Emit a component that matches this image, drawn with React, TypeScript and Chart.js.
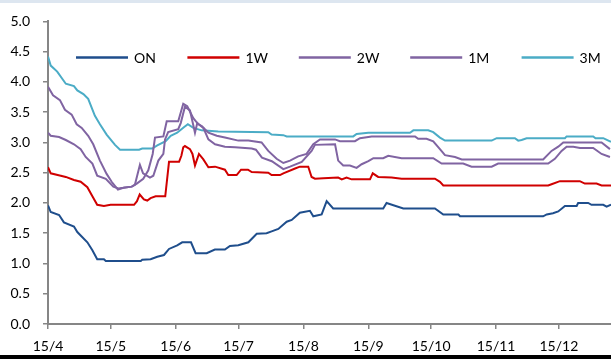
import React, { useEffect, useRef } from "react";
import { Chart, registerables } from "chart.js";

Chart.register(...registerables);

// x = calendar days since 2015-04-01
const MONTH_TICKS = [0, 30, 61, 91, 122, 153, 183, 214, 244];
const MONTH_LABELS = ["15/4", "15/5", "15/6", "15/7", "15/8", "15/9", "15/10", "15/11", "15/12"];
const X_MAX = 268.9;
const Y_TICKS_STEP = 0.5;

const SERIES_NAMES = ["ON", "1W", "2W", "1M", "3M"];
const SERIES_COLORS = ["#1F4E8C", "#D00000", "#8064A2", "#8064A2", "#4BACC6"];

const ON_DAYS = [0, 1.3, 5.3, 7.6, 12.4, 14, 18.8, 21.2, 23.5, 26.7, 27.6, 44.3, 45, 49, 52.2, 55.4, 57.8, 61.7, 64.1, 68.3, 70.5, 75.8, 79.7, 84.5, 86.9, 90.9, 95.7, 99.7, 104.4, 106.8, 110, 114, 116.4, 120.3, 125.1, 126.7, 130.7, 133.1, 136.2, 160.1, 161.7, 169.7, 184.8, 188.8, 196, 196.8, 236.5, 238.2, 241.2, 243.7, 246.9, 252.5, 253.2, 258, 259.6, 265.2, 266.8, 268.9];
const ON_RATES = [1.96, 1.85, 1.80, 1.68, 1.61, 1.52, 1.35, 1.22, 1.07, 1.07, 1.04, 1.04, 1.06, 1.07, 1.11, 1.14, 1.24, 1.30, 1.35, 1.35, 1.17, 1.17, 1.23, 1.23, 1.29, 1.30, 1.35, 1.49, 1.50, 1.53, 1.57, 1.69, 1.72, 1.84, 1.87, 1.78, 1.81, 2.03, 1.91, 1.91, 2.0, 1.91, 1.91, 1.81, 1.81, 1.78, 1.78, 1.81, 1.83, 1.86, 1.95, 1.95, 2.0, 2.0, 1.97, 1.97, 1.94, 1.97];

const W1_DAYS = [0, 1.3, 6.1, 8.5, 12.4, 15.6, 18.8, 21.2, 23.5, 26.7, 29.9, 41.1, 42.5, 43.8, 45.8, 47.4, 49, 51.4, 56, 57.8, 62.6, 63.7, 64.6, 65.4, 67.8, 69, 70.2, 72.1, 74.2, 76.6, 79.8, 84.5, 86.1, 90.1, 92.2, 95.5, 97.3, 105.2, 106.8, 110.8, 112.4, 118, 120.3, 124.3, 125.9, 127.5, 131.5, 138.6, 140.3, 142.6, 145, 153.8, 155.1, 157.7, 164.1, 168.9, 184.8, 187.2, 188.8, 238.9, 240.5, 244.5, 254, 256.4, 262, 264.4, 268.9];
const W1_RATES = [2.59, 2.49, 2.45, 2.43, 2.38, 2.35, 2.26, 2.11, 1.97, 1.95, 1.97, 1.97, 2.03, 2.14, 2.06, 2.04, 2.08, 2.11, 2.11, 2.68, 2.68, 2.78, 2.92, 2.94, 2.89, 2.81, 2.62, 2.81, 2.72, 2.59, 2.60, 2.55, 2.46, 2.46, 2.55, 2.55, 2.51, 2.50, 2.46, 2.46, 2.49, 2.57, 2.60, 2.60, 2.43, 2.40, 2.41, 2.42, 2.39, 2.42, 2.39, 2.39, 2.49, 2.43, 2.42, 2.40, 2.40, 2.35, 2.29, 2.29, 2.31, 2.36, 2.36, 2.32, 2.32, 2.29, 2.29];

const W2_DAYS = [0, 1.3, 5.3, 8.5, 12.4, 15.6, 18, 21.2, 23.5, 27.6, 31.2, 33.6, 36, 40, 42.4, 45.5, 47.9, 50, 51.1, 55.1, 56.7, 62.2, 64.6, 66.5, 69.4, 71.8, 73.4, 76.6, 80.6, 84.5, 90.9, 95.7, 102, 105.2, 109.2, 112.4, 115.6, 119.5, 123.5, 126.7, 129.9, 137.1, 139.4, 146.6, 149, 154.6, 175.3, 176.8, 180.8, 184, 187.2, 189.6, 194.4, 197.6, 236.5, 240.5, 243.7, 246.1, 264.4, 268.4];
const W2_RATES = [3.16, 3.11, 3.09, 3.04, 2.97, 2.89, 2.76, 2.65, 2.45, 2.40, 2.27, 2.24, 2.25, 2.27, 2.32, 2.40, 2.54, 2.81, 3.08, 3.10, 3.35, 3.35, 3.64, 3.60, 3.40, 3.30, 3.27, 3.16, 3.11, 3.08, 3.03, 3.03, 3.00, 2.86, 2.73, 2.66, 2.70, 2.77, 2.81, 2.97, 3.05, 3.05, 3.02, 3.02, 3.07, 3.10, 3.10, 3.06, 3.06, 3.02, 2.89, 2.79, 2.76, 2.72, 2.72, 2.86, 2.93, 3.00, 3.00, 2.89];

const M1_DAYS = [0, 2.4, 5.7, 8.1, 11.3, 13.7, 16.1, 19.2, 21.6, 24.8, 28, 30.4, 33.4, 36, 40, 41.5, 43.9, 45.4, 48.7, 50.3, 52.7, 55.1, 55.9, 57.4, 62.2, 63.4, 65.4, 67.8, 70.2, 71.3, 74.2, 76.6, 79.8, 84.5, 89.3, 97.3, 99.3, 102.2, 106.9, 112.4, 115.6, 121.2, 125.9, 127.5, 137.1, 138.6, 141, 144.2, 147.4, 149.8, 153, 155.4, 160.1, 162.5, 168.9, 184, 188, 198.3, 202.3, 211.9, 215, 238.9, 242.1, 245.3, 247.7, 250.9, 254.1, 260.4, 264.4, 268.4];
const M1_RATES = [3.92, 3.78, 3.70, 3.54, 3.46, 3.30, 3.24, 3.11, 2.97, 2.70, 2.48, 2.35, 2.22, 2.25, 2.27, 2.30, 2.63, 2.49, 2.42, 2.45, 2.70, 2.81, 3.05, 3.17, 3.22, 3.32, 3.59, 3.53, 3.16, 3.32, 3.24, 3.05, 2.97, 2.93, 2.92, 2.90, 2.88, 2.75, 2.69, 2.56, 2.60, 2.68, 2.86, 2.96, 2.97, 2.70, 2.62, 2.62, 2.58, 2.64, 2.69, 2.74, 2.74, 2.78, 2.74, 2.74, 2.65, 2.65, 2.60, 2.60, 2.65, 2.65, 2.73, 2.86, 2.93, 2.93, 2.91, 2.91, 2.81, 2.76];

const M3_DAYS = [0, 1.3, 4.4, 8.5, 12.4, 14, 16.9, 19.2, 22.4, 24.8, 28, 32, 34.4, 43.5, 45, 49.8, 52.2, 56.2, 58.6, 61.7, 64.9, 66.8, 69.4, 73.4, 81.3, 105.2, 106.8, 112.4, 114, 145.8, 147.4, 153, 172.9, 174.5, 181.6, 184, 187.2, 189.6, 211.9, 214.3, 223, 224.6, 226.2, 228.6, 246.9, 247.7, 260.4, 261.5, 265.2, 268.9];
const M3_RATES = [4.42, 4.27, 4.17, 3.97, 3.93, 3.86, 3.80, 3.72, 3.44, 3.30, 3.13, 2.96, 2.88, 2.88, 2.90, 2.90, 2.95, 3.02, 3.11, 3.16, 3.25, 3.30, 3.24, 3.20, 3.18, 3.17, 3.13, 3.12, 3.10, 3.10, 3.14, 3.16, 3.16, 3.20, 3.20, 3.17, 3.08, 3.03, 3.03, 3.07, 3.07, 3.03, 3.04, 3.07, 3.07, 3.10, 3.10, 3.07, 3.07, 3.01];

const FONT_FAMILY = "Lato, 'Open Sans', sans-serif";
const FONT_SIZE = 14;
const AXIS_COLOR = "#868686";

function pts(days: number[], rates: number[]) {
  return days.map((d, i) => ({ x: d, y: rates[i] }));
}

const legendPlugin = {
  id: "insideLegend",
  afterDraw(chart: any) {
    const ctx = chart.ctx;
    const area = chart.chartArea;
    const y = area.top + 36;
    const startX = area.left + 28;
    const pitch = 111.4;
    ctx.save();
    ctx.font = `${FONT_SIZE}px ${FONT_FAMILY}`;
    ctx.textBaseline = "middle";
    ctx.fillStyle = "#000";
    chart.data.datasets.forEach((ds: any, i: number) => {
      const x0 = startX + i * pitch;
      ctx.strokeStyle = ds.borderColor;
      ctx.lineWidth = 2.5;
      ctx.beginPath();
      ctx.moveTo(x0, y);
      ctx.lineTo(x0 + 52, y);
      ctx.stroke();
      ctx.fillText(ds.label, x0 + 58, y + 1);
    });
    ctx.restore();
  },
};

export default function App() {
  const ref = useRef<HTMLCanvasElement | null>(null);
  useEffect(() => {
    if (!ref.current) return;
    const seriesData = [
      pts(ON_DAYS, ON_RATES),
      pts(W1_DAYS, W1_RATES),
      pts(W2_DAYS, W2_RATES),
      pts(M1_DAYS, M1_RATES),
      pts(M3_DAYS, M3_RATES),
    ];
    const font = { family: FONT_FAMILY, size: FONT_SIZE };
    const chart = new Chart(ref.current, {
      type: "line",
      data: {
        datasets: SERIES_NAMES.map((name, i) => ({
          label: name,
          data: seriesData[i],
          borderColor: SERIES_COLORS[i],
          backgroundColor: SERIES_COLORS[i],
          borderWidth: 2,
          pointRadius: 0,
          tension: 0,
          fill: false,
        })),
      },
      options: {
        responsive: false,
        animation: false,
        layout: { padding: { top: 15, right: 0, left: 0, bottom: 0 } },
        plugins: { legend: { display: false }, tooltip: { enabled: false } },
        scales: {
          x: {
            type: "linear",
            min: 0,
            max: X_MAX,
            afterBuildTicks: (s: any) => {
              s.ticks = MONTH_TICKS.map((v) => ({ value: v }));
            },
            afterFit: (s: any) => {
              s.height = 35;
            },
            ticks: {
              autoSkip: false,
              maxRotation: 0,
              padding: 9,
              color: "#000",
              font,
              callback: (v: any) => MONTH_LABELS[MONTH_TICKS.indexOf(Number(v))] ?? "",
            },
            grid: { drawOnChartArea: false, drawTicks: true, tickLength: 5, color: AXIS_COLOR, lineWidth: 1.5 },
            border: { color: AXIS_COLOR, width: 2 },
          },
          y: {
            min: 0,
            max: 5,
            afterFit: (s: any) => {
              s.width = 48;
            },
            ticks: {
              stepSize: Y_TICKS_STEP,
              padding: 13,
              color: "#000",
              font,
              callback: (v: any) => Number(v).toFixed(1),
            },
            grid: { drawOnChartArea: false, drawTicks: true, tickLength: 5, color: AXIS_COLOR, lineWidth: 1.5 },
            border: { color: AXIS_COLOR, width: 2 },
          },
        },
      },
      plugins: [legendPlugin],
    });
    return () => chart.destroy();
  }, []);

  return (
    <div style={{ position: "fixed", left: 0, top: 0, width: 611, height: 359, background: "#fff", overflow: "hidden" }}>
      <canvas ref={ref} width={611} height={359} style={{ display: "block", width: 611, height: 359 }} />
      <div style={{ position: "absolute", left: 0, top: 0, width: 611, height: 3, background: "#dde6f0" }} />
      <div style={{ position: "absolute", left: 0, top: 355, width: 611, height: 4, background: "#000" }} />
    </div>
  );
}
